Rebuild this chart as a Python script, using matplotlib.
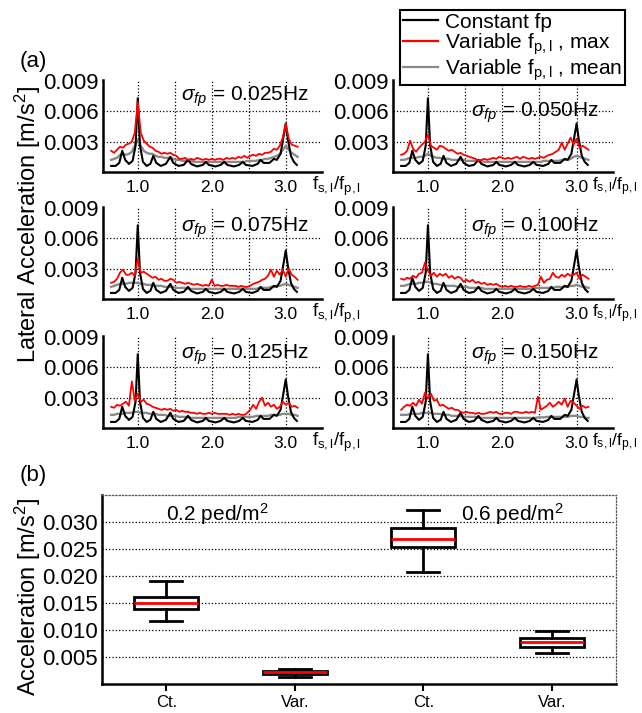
import numpy as np
import matplotlib
matplotlib.use("Agg")
import matplotlib.pyplot as plt
from matplotlib.lines import Line2D

plt.rcParams['font.family'] = ['Liberation Sans', 'DejaVu Sans']
plt.rcParams['mathtext.fontset'] = 'custom'
plt.rcParams['mathtext.rm'] = 'Liberation Sans'
plt.rcParams['mathtext.it'] = 'Liberation Sans:italic'
plt.rcParams['mathtext.sf'] = 'Liberation Sans'

# --- (a) spectra, values in 1e-3 m/s^2 ---
freq = [0.64, 0.68, 0.72, 0.76, 0.80, 0.84, 0.88, 0.92, 0.96, 1.00, 1.04, 1.08, 1.12, 1.16, 1.20, 1.24,
        1.28, 1.32, 1.36, 1.40, 1.44, 1.48, 1.52, 1.56, 1.60, 1.64, 1.68, 1.72, 1.76, 1.80, 1.84, 1.88,
        1.92, 1.96, 2.00, 2.04, 2.08, 2.12, 2.16, 2.20, 2.24, 2.28, 2.32, 2.36, 2.40, 2.44, 2.48, 2.52,
        2.56, 2.60, 2.64, 2.68, 2.72, 2.76, 2.80, 2.84, 2.88, 2.92, 2.96, 3.00, 3.04, 3.08, 3.12, 3.16]

const_f = [0.64, 0.70, 0.75, 0.79, 0.83, 0.88, 0.93, 0.97, 1.00, 1.03, 1.07, 1.12, 1.17, 1.21, 1.25,
           1.31, 1.38, 1.44, 1.48, 1.55, 1.62, 1.68, 1.72, 1.80, 1.88, 1.92, 1.96, 2.05, 2.12, 2.17,
           2.21, 2.30, 2.37, 2.42, 2.46, 2.55, 2.62, 2.66, 2.70, 2.78, 2.84, 2.88, 2.93, 2.97, 3.00,
           3.03, 3.07, 3.11, 3.15]
const_acc = [0.6, 0.6, 0.9, 2.1, 1.2, 0.8, 1.1, 2.6, 7.3, 2.6, 1.0, 0.6, 0.8, 1.6, 0.9,
             0.6, 0.8, 1.5, 0.9, 0.6, 0.7, 1.2, 0.8, 0.55, 0.7, 1.0, 0.7, 0.55, 0.7, 1.0,
             0.7, 0.55, 0.7, 1.0, 0.7, 0.6, 0.8, 1.2, 0.9, 0.9, 1.3, 1.2, 1.8, 3.5, 4.8,
             3.2, 1.6, 1.0, 0.7]

sigmas = ['0.025', '0.050', '0.075', '0.100', '0.125', '0.150']

max_025 = [2.1, 1.9, 2.2, 2.5, 2.4, 2.7, 2.8, 3.0, 3.9, 6.9, 3.9, 3.1, 2.8, 2.5, 2.4, 2.1,
           2.0, 1.8, 1.9, 1.8, 1.9, 1.7, 1.6, 1.3, 1.3, 1.4, 1.2, 1.3, 1.2, 1.4, 1.3, 1.2,
           1.3, 1.2, 1.3, 1.2, 1.3, 1.3, 1.2, 1.4, 1.3, 1.4, 1.3, 1.5, 1.4, 1.6, 1.4, 1.6,
           1.7, 1.6, 1.8, 1.7, 1.9, 1.9, 2.0, 2.3, 2.2, 2.6, 3.4, 4.8, 3.3, 2.7, 2.6, 2.5]
max_050 = [1.7, 1.8, 2.1, 3.1, 2.3, 2.0, 2.4, 2.7, 3.0, 3.7, 2.6, 2.4, 2.2, 2.6, 2.5, 2.3,
           2.1, 2.2, 2.0, 1.8, 1.9, 1.7, 1.6, 1.5, 1.4, 1.3, 1.1, 1.2, 1.3, 1.2, 1.3, 1.4,
           1.3, 1.5, 1.4, 1.3, 1.4, 1.3, 1.4, 1.5, 1.3, 1.5, 1.4, 1.3, 1.4, 1.3, 1.4, 1.5,
           1.4, 1.6, 1.7, 1.8, 2.0, 2.2, 2.9, 2.2, 2.8, 3.4, 2.7, 3.3, 2.4, 2.6, 2.4, 2.2]
max_075 = [1.6, 1.7, 2.0, 2.6, 2.9, 2.4, 2.4, 2.6, 2.3, 4.0, 2.6, 2.7, 2.5, 2.3, 2.1, 2.2,
           1.9, 2.0, 1.8, 1.8, 2.0, 1.9, 1.6, 1.7, 1.6, 1.5, 1.6, 1.5, 1.4, 1.5, 1.4, 1.3,
           1.4, 1.3, 1.9, 1.3, 1.4, 1.3, 1.3, 1.4, 1.3, 1.3, 1.3, 1.2, 1.3, 1.2, 1.2, 1.3,
           1.5, 1.6, 1.7, 1.9, 2.0, 2.3, 2.9, 2.2, 2.8, 2.4, 2.9, 2.2, 3.0, 2.4, 2.2, 1.9]
max_100 = [2.0, 1.9, 2.1, 2.0, 2.3, 2.1, 2.5, 2.6, 3.6, 2.8, 2.3, 2.6, 2.2, 2.5, 2.3, 2.5,
           2.1, 2.3, 2.0, 2.2, 2.1, 1.7, 1.9, 1.7, 1.9, 1.6, 1.7, 1.5, 1.6, 1.4, 1.5, 1.4,
           1.5, 1.3, 1.2, 1.3, 1.2, 1.3, 1.2, 1.2, 1.3, 1.2, 1.2, 1.3, 1.2, 1.3, 1.4, 2.2,
           1.6, 1.9, 2.0, 2.6, 2.2, 2.1, 2.4, 2.2, 2.5, 2.3, 2.4, 2.6, 2.0, 2.4, 2.2, 2.0]
max_125 = [2.1, 2.0, 2.3, 2.2, 2.4, 2.6, 2.2, 4.6, 2.7, 3.4, 2.6, 2.8, 2.4, 2.3, 2.1, 2.0,
           1.9, 1.8, 1.9, 1.8, 1.9, 1.7, 1.8, 1.6, 1.7, 1.6, 1.6, 1.5, 1.5, 1.4, 1.5, 1.4,
           1.4, 1.5, 1.4, 1.5, 1.4, 1.4, 1.4, 1.4, 1.3, 1.4, 1.3, 1.4, 1.3, 1.3, 1.5, 1.8,
           2.3, 1.9, 2.6, 3.0, 2.2, 2.5, 2.1, 2.3, 1.9, 2.1, 2.6, 2.3, 2.5, 2.1, 2.2, 2.0]
max_150 = [1.8, 2.1, 2.3, 2.2, 2.5, 2.2, 2.8, 2.4, 3.5, 2.9, 3.4, 2.7, 2.8, 2.2, 2.3, 2.1,
           1.9, 2.0, 1.8, 1.8, 1.6, 1.5, 1.6, 1.5, 1.5, 1.4, 1.5, 1.4, 1.4, 1.5, 1.6, 1.5,
           1.6, 1.4, 1.4, 1.5, 1.5, 1.4, 1.6, 1.6, 1.5, 1.5, 1.6, 1.5, 1.6, 1.5, 3.1, 1.8,
           2.0, 2.2, 2.5, 2.1, 2.3, 2.6, 2.3, 2.9, 2.1, 2.7, 2.5, 2.2, 1.9, 2.2, 2.0, 2.1]

mean_025 = [1.2, 1.3, 1.4, 1.7, 1.8, 1.7, 1.8, 2.0, 2.6, 3.2, 2.6, 2.1, 1.9, 1.8, 1.8, 1.6,
            1.5, 1.5, 1.4, 1.4, 1.4, 1.3, 1.2, 1.2, 1.1, 1.1, 1.1, 1.1, 1.0, 1.0, 1.0, 1.0,
            1.0, 1.0, 1.0, 1.0, 1.0, 1.0, 1.0, 1.0, 1.0, 1.0, 1.0, 1.0, 1.0, 1.0, 1.1, 1.1,
            1.1, 1.1, 1.2, 1.2, 1.3, 1.3, 1.4, 1.5, 1.6, 1.8, 2.2, 2.6, 2.2, 1.9, 1.7, 1.5]
mean_050 = [1.2, 1.2, 1.3, 1.4, 1.4, 1.4, 1.5, 1.5, 1.6, 1.8, 1.6, 1.5, 1.4, 1.4, 1.3, 1.3,
            1.3, 1.2, 1.2, 1.2, 1.2, 1.2, 1.1, 1.1, 1.1, 1.1, 1.1, 1.1, 1.0, 1.0, 1.0, 1.0,
            1.0, 1.0, 1.0, 1.0, 1.0, 1.0, 1.0, 1.0, 1.0, 1.0, 1.0, 1.0, 1.0, 1.0, 1.0, 1.0,
            1.1, 1.1, 1.1, 1.1, 1.1, 1.1, 1.2, 1.2, 1.2, 1.3, 1.5, 1.6, 1.5, 1.4, 1.3, 1.2]
mean_075 = [1.2, 1.3, 1.4, 1.5, 1.5, 1.5, 1.6, 1.6, 1.6, 1.6, 1.5, 1.5, 1.4, 1.4, 1.4, 1.3,
            1.3, 1.3, 1.2, 1.2, 1.2, 1.2, 1.1, 1.1, 1.1, 1.1, 1.0, 1.0, 1.0, 1.0, 1.0, 1.0,
            1.0, 1.0, 1.0, 1.0, 1.0, 1.0, 1.0, 1.0, 1.0, 1.0, 1.0, 1.0, 1.0, 1.0, 1.0, 1.0,
            1.0, 1.0, 1.1, 1.1, 1.1, 1.1, 1.2, 1.2, 1.3, 1.3, 1.4, 1.5, 1.4, 1.3, 1.2, 1.1]
mean_100 = [1.3, 1.3, 1.4, 1.5, 1.5, 1.5, 1.6, 1.6, 1.7, 1.7, 1.6, 1.5, 1.5, 1.4, 1.4, 1.3,
            1.3, 1.3, 1.3, 1.2, 1.2, 1.2, 1.2, 1.1, 1.1, 1.1, 1.1, 1.1, 1.0, 1.0, 1.0, 1.0,
            1.0, 1.0, 1.0, 1.0, 1.0, 1.0, 1.0, 1.0, 1.0, 1.0, 1.0, 1.0, 1.0, 1.1, 1.1, 1.1,
            1.1, 1.1, 1.1, 1.1, 1.2, 1.2, 1.2, 1.2, 1.2, 1.3, 1.3, 1.4, 1.3, 1.2, 1.2, 1.1]
mean_125 = [1.3, 1.3, 1.4, 1.4, 1.4, 1.5, 1.5, 1.5, 1.6, 1.6, 1.5, 1.5, 1.5, 1.4, 1.4, 1.4,
            1.3, 1.3, 1.3, 1.2, 1.2, 1.2, 1.2, 1.1, 1.1, 1.1, 1.1, 1.0, 1.0, 1.0, 1.0, 1.0,
            1.0, 1.0, 1.0, 1.0, 1.0, 1.0, 1.0, 1.0, 1.0, 1.0, 1.0, 1.1, 1.1, 1.1, 1.1, 1.1,
            1.1, 1.2, 1.2, 1.2, 1.2, 1.2, 1.3, 1.3, 1.3, 1.3, 1.4, 1.4, 1.4, 1.3, 1.3, 1.2]
mean_150 = [1.3, 1.3, 1.3, 1.4, 1.4, 1.4, 1.4, 1.5, 1.5, 1.5, 1.5, 1.4, 1.4, 1.4, 1.3, 1.3,
            1.3, 1.2, 1.2, 1.2, 1.2, 1.1, 1.1, 1.1, 1.1, 1.1, 1.0, 1.0, 1.0, 1.0, 1.0, 1.0,
            1.0, 1.0, 1.0, 1.0, 1.0, 1.0, 1.0, 1.0, 1.0, 1.0, 1.0, 1.0, 1.0, 1.0, 1.05, 1.05,
            1.05, 1.1, 1.1, 1.1, 1.1, 1.1, 1.1, 1.1, 1.1, 1.2, 1.2, 1.2, 1.1, 1.1, 1.0, 1.0]

max_series = [max_025, max_050, max_075, max_100, max_125, max_150]
mean_series = [mean_025, mean_050, mean_075, mean_100, mean_125, mean_150]

# --- (b) box statistics [m/s^2] ---
box_labels = ['Ct.', 'Var.', 'Ct.', 'Var.']
whislo = [0.0117, 0.0013, 0.0208, 0.0057]
q1 = [0.0138, 0.0018, 0.0253, 0.0069]
med = [0.0150, 0.0022, 0.0268, 0.0077]
q3 = [0.0162, 0.0024, 0.0288, 0.0086]
whishi = [0.0190, 0.0028, 0.0323, 0.0099]
density_labels = ['0.2 ped/m$^{\\mathregular{2}}$', '0.6 ped/m$^{\\mathregular{2}}$']

W, H = 642, 713
fig = plt.figure(figsize=(W / 100, H / 100), dpi=100)

col_left = [103, 393]
col_width = [219, 220]
row_bottom = [172, 299, 428]
ax_h = 92
flabel_x = [0.955, 0.905]
flabel_size = [13.5, 12.5]
sigma_y = [7.05, 5.45, 6.7, 6.7, 6.9, 6.9]
fsl = 'f$_{\\mathregular{s,l}}$/f$_{\\mathregular{p,l}}$'

for i in range(6):
    r, c = divmod(i, 2)
    ax = fig.add_axes([col_left[c] / W, 1 - row_bottom[r] / H, col_width[c] / W, ax_h / H])
    ax.plot(freq, np.array(mean_series[i]) * 1e-3, color='#8a8a8a', lw=1.7, zorder=2)
    ax.plot(const_f, np.array(const_acc) * 1e-3, color='black', lw=1.5, zorder=3)
    ax.plot(freq, np.array(max_series[i]) * 1e-3, color='red', lw=1.3, zorder=4)
    ax.set_xlim(0.53, 3.49)
    ax.set_ylim(0, 0.0091)
    ax.set_xticks([1.0, 1.5, 2.0, 2.5, 3.0], ['1.0', '', '2.0', '', '3.0'], fontsize=12.5)
    ax.set_yticks([0.003, 0.006, 0.009], ['0.003', '0.006', '0.009'], fontsize=16)
    ax.tick_params(length=0)
    ax.tick_params(axis='x', pad=6)
    ax.tick_params(axis='y', pad=3)
    ax.grid(True, color='black', linestyle=':', linewidth=0.9)
    ax.get_ygridlines()[-1].set_visible(False)
    for s in ['top', 'right']:
        ax.spines[s].set_visible(False)
    for s in ['left', 'bottom']:
        ax.spines[s].set_linewidth(1.8)
    ax.text(1.58, sigma_y[i] * 1e-3, '$\\sigma_{fp}$ = ' + sigmas[i] + 'Hz', fontsize=15, zorder=6)
    ax.text(flabel_x[c], -0.035, fsl, transform=ax.transAxes, ha='left', va='top',
            fontsize=flabel_size[c], clip_on=False)

handles = [Line2D([], [], color='black', lw=1.6),
           Line2D([], [], color='red', lw=1.6),
           Line2D([], [], color='#8a8a8a', lw=1.6)]
leg = fig.legend(handles, ['Constant fp',
                           'Variable f$_{\\mathregular{p,l}}$ , max',
                           'Variable f$_{\\mathregular{p,l}}$ , mean'],
                 loc='upper right', bbox_to_anchor=(625 / W, 1 - 10 / H), fontsize=15,
                 frameon=True, fancybox=False, framealpha=1, edgecolor='black',
                 handlelength=1.7, handletextpad=0.35, borderpad=0.12, labelspacing=0.0,
                 borderaxespad=0)
leg.get_frame().set_linewidth(1.5)

fig.text(28 / W, 1 - 225 / H, 'Lateral Acceleration [m/s$^{\\mathregular{2}}$]', rotation=90,
         ha='center', va='center', fontsize=17)
fig.text(33 / W, 1 - 62 / H, '(a)', ha='center', va='center', fontsize=16)
fig.text(33 / W, 1 - 476 / H, '(b)', ha='center', va='center', fontsize=16)

# --- (b) box plot ---
bx = fig.add_axes([102 / W, 1 - 684 / H, 514 / W, 189 / H])
stats = [dict(whislo=whislo[k], q1=q1[k], med=med[k], q3=q3[k], whishi=whishi[k])
         for k in range(4)]
bx.bxp(stats, positions=[1, 2, 3, 4], widths=0.5, showfliers=False, patch_artist=True,
       boxprops=dict(facecolor='white', edgecolor='black', linewidth=2),
       medianprops=dict(color='red', linewidth=2),
       whiskerprops=dict(color='black', linewidth=2),
       capprops=dict(color='black', linewidth=2))
bx.set_xlim(0.5, 4.5)
bx.set_ylim(0, 0.035)
bx.set_xticks([1, 2, 3, 4], box_labels, fontsize=12)
bx.set_yticks([0.005, 0.010, 0.015, 0.020, 0.025, 0.030],
              ['0.005', '0.010', '0.015', '0.020', '0.025', '0.030'], fontsize=16)
bx.tick_params(axis='y', length=0, pad=3)
bx.tick_params(axis='x', direction='out', length=5, width=1.5, pad=3)
bx.yaxis.grid(True, color='black', linestyle=':', linewidth=0.9)
bx.set_axisbelow(True)
for s in ['top', 'right']:
    bx.spines[s].set_linestyle(':')
    bx.spines[s].set_linewidth(0.9)
    bx.spines[s].set_color('#555555')
for s in ['left', 'bottom']:
    bx.spines[s].set_linewidth(1.8)
bx.text(1.0, 0.0302, density_labels[0], fontsize=15)
bx.text(3.29, 0.0302, density_labels[1], fontsize=15)

fig.text(28 / W, 1 - 597 / H, 'Acceleration [m/s$^{\\mathregular{2}}$]', rotation=90,
         ha='center', va='center', fontsize=17)

fig.savefig('out.png', dpi=100)
